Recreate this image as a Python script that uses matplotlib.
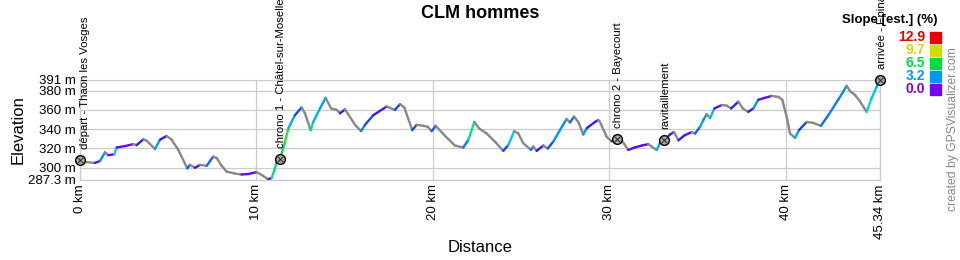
import numpy as np
import matplotlib
matplotlib.use("Agg")
import matplotlib.pyplot as plt
from matplotlib.collections import LineCollection
from matplotlib.colors import LinearSegmentedColormap, Normalize
from matplotlib.patches import Rectangle

plt.rcParams['font.family'] = ['Liberation Sans', 'DejaVu Sans']

# track profile (km, m)
dist_km = [0.00, 0.28, 0.85, 1.13, 1.42, 1.60, 1.94, 2.08, 2.55, 3.02, 3.21, 3.59, 3.78,
           4.25, 4.53, 4.91, 5.20, 5.57, 6.08, 6.23, 6.52, 6.80, 7.18, 7.37, 7.55, 7.75,
           8.03, 8.31, 8.78, 9.16, 9.54, 10.01, 10.30, 10.67, 10.86, 11.01, 11.15, 11.33,
           11.52, 11.62, 11.81, 12.18, 12.56, 12.75, 13.07, 13.22, 13.60, 13.92, 14.23,
           14.55, 14.74, 15.02, 15.59, 15.93, 16.15, 16.62, 17.38, 17.85, 18.14, 18.38,
           18.83, 19.08, 19.46, 19.71, 19.93, 20.16, 20.69, 21.25, 21.72, 22.01, 22.35,
           22.61, 23.05, 23.52, 23.99, 24.27, 24.61, 24.84, 25.12, 25.56, 25.69, 25.88,
           26.26, 26.51, 26.82, 27.20, 27.58, 27.77, 28.00, 28.24, 28.52, 28.72, 29.19,
           29.37, 29.47, 29.85, 30.13, 30.41, 30.70, 31.07, 31.45, 31.83, 32.21, 32.40,
           32.68, 32.87, 33.12, 33.44, 33.66, 33.92, 34.25, 34.67, 34.86, 35.14, 35.33,
           35.52, 35.71, 35.95, 36.37, 36.65, 36.90, 37.31, 37.59, 37.88, 38.16, 38.44,
           38.82, 39.20, 39.58, 39.80, 40.05, 40.24, 40.52, 40.75, 41.18, 41.56, 41.99,
           42.41, 42.97, 43.26, 43.45, 43.64, 43.92, 44.20, 44.58, 44.86, 45.15, 45.34]
elev_m = [308, 306, 305, 307, 316, 313, 314, 321, 322.5, 324.5, 323.5, 329.5, 328,
          319.5, 329, 333, 329, 318.5, 299.5, 303, 300, 303, 302, 307, 311.5, 310,
          302, 296, 294, 293, 293.5, 295.5, 292.5, 288, 289.5, 297.5, 305.5, 309,
          321, 327, 341, 354.5, 362.5, 356.5, 339, 347.5, 361.5, 372.5, 361.5,
          360, 356.5, 360.5, 344.5, 338, 344.5, 354.5, 363.5, 360, 366, 362.5,
          339, 344.5, 343.5, 342.5, 338, 343.5, 333, 323, 321, 329, 347.5,
          341, 335.5, 327, 317.5, 323.5, 338, 335.5, 325.5, 318.5, 322, 317.5,
          323, 320, 327, 339, 350.5, 347, 353, 347.5, 334.5, 341, 347.5,
          349.5, 347.5, 332, 327.5, 330, 328.5, 318.5, 321, 323, 324.5, 322,
          318.5, 325.5, 329, 334.5, 337, 328.5, 333.5, 337, 335.5, 342.5, 349.5,
          355.5, 351.5, 361.5, 365, 364.5, 361.5, 368.5, 361, 358, 361.5, 370.5,
          372.5, 374.5, 373.5, 370.5, 353, 335.5, 331, 339, 347.5, 346.5, 343.5,
          354.5, 370.5, 379, 385, 379.5, 375.5, 369, 358, 372, 384, 391]

# waypoints
wpt_km = [0.0, 11.33, 30.41, 33.12, 45.34]
wpt_m = [308, 309, 330, 329, 391]
wpt_names = ["départ - Thaon les Vosges", "chrono 1 - Châtel-sur-Moselle",
             "chrono 2 - Bayecourt", "ravitaillement", "arrivée - Épinal"]

y_ticks = [287.3, 300, 320, 340, 360, 380, 391]
x_ticks = [0, 10, 20, 30, 40, 45.34]
x_labels = ["0 km", "10 km", "20 km", "30 km", "40 km", "45.34 km"]

slope_vals = [12.9, 9.7, 6.5, 3.2, 0.0]
slope_cols = ["#ee0000", "#ccdd00", "#00dd44", "#0099ee", "#7700ee"]

W, H = 960, 260
fig = plt.figure(figsize=(W / 100, H / 100), dpi=100)
ax = fig.add_axes([80 / W, (H - 180) / H, 800 / W, 100 / H])

# slope colour scale
cmap = LinearSegmentedColormap.from_list(
    "slope", [(0.0, "#7700ee"), (1.6 / 12.9, "#2222ff"), (3.2 / 12.9, "#0099ee"),
              (4.8 / 12.9, "#00dddd"), (6.5 / 12.9, "#00dd44"), (9.7 / 12.9, "#ccdd00"),
              (11.3 / 12.9, "#ff9900"), (1.0, "#ee0000")])
norm = Normalize(0, 12.9)

x = np.array(dist_km)
y = np.array(elev_m)
slope = np.diff(y) / (np.diff(x) * 1000) * 100
cols = [cmap(norm(s)) if s >= 0 else "#888888" for s in slope]
segs = np.stack([np.column_stack([x[:-1], y[:-1]]), np.column_stack([x[1:], y[1:]])], axis=1)
lc = LineCollection(segs, colors=cols, linewidths=1.7, capstyle='round', zorder=3)
ax.add_collection(lc)

ax.set_xlim(0, 45.34)
ax.set_ylim(287.3, 391)
ax.set_yticks(y_ticks)
ax.set_yticklabels([f"{v:g} m" for v in y_ticks], fontsize=9.5)
ax.set_xticks(x_ticks)
ax.set_xticklabels(x_labels, rotation=90, fontsize=9.5)
ax.tick_params(length=0, pad=3)
ax.grid(True, color="#cccccc", lw=0.9)
for s in ax.spines.values():
    s.set_color("#cccccc")
    s.set_linewidth(0.9)

# waypoints
ax.plot(wpt_km, wpt_m, 'o', ms=7, mfc="#aaaaaa", mec="black", mew=1.0, zorder=5, clip_on=False)
ax.plot(wpt_km, wpt_m, 'x', ms=4, mec="#222222", mew=0.7, zorder=6, clip_on=False)
for i, (k, m, name) in enumerate(zip(wpt_km, wpt_m, wpt_names)):
    dx = 5 if i == 0 else 1
    ax.annotate(name, (k, m), xytext=(dx, 11), textcoords='offset pixels', rotation=90,
                ha='center', va='bottom', fontsize=8.2, annotation_clip=False)

fig.text(0.5, 1 - 14 / H, "CLM hommes", ha='center', va='center', fontsize=13, fontweight='bold')
fig.text(18 / W, 1 - 130 / H, "Elevation", rotation=90, ha='center', va='center', fontsize=12)
fig.text(480 / W, 1 - 248 / H, "Distance", ha='center', va='center', fontsize=12)
fig.text(953 / W, 1 - 129 / H, "created by GPSVisualizer.com", rotation=90, ha='center',
         va='center', fontsize=8.7, color="#888888")

# slope legend
fig.text(937 / W, 1 - 20 / H, "Slope [est.] (%)", ha='right', va='center', fontsize=9.5,
         fontweight='bold')
for j, (v, c) in enumerate(zip(slope_vals, slope_cols)):
    yc = 37 + j * 13
    fig.text(925 / W, 1 - yc / H, f"{v:.1f}", ha='right', va='center', fontsize=10,
             fontweight='bold', color=c)
    fig.patches.append(Rectangle((930 / W, 1 - (yc + 5.5) / H), 11 / W, 11 / H,
                                 transform=fig.transFigure, color=c, figure=fig))

fig.savefig("out.png", dpi=100)
